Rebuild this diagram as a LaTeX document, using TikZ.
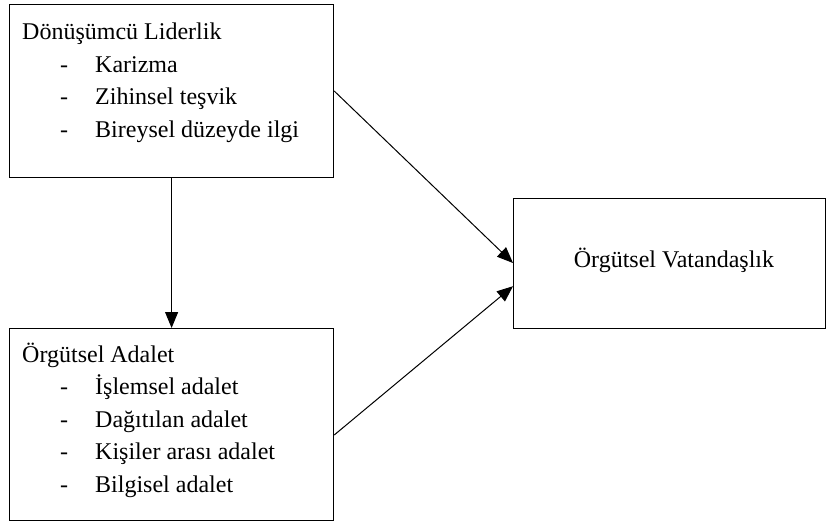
\documentclass[tikz,border=0pt]{standalone}
\usepackage{fontspec}
\setmainfont{Liberation Serif}
\usetikzlibrary{arrows.meta}
\newcommand{\madde}[1]{\makebox[73pt][l]{\hspace*{38pt}-}#1}
\begin{document}
\begin{tikzpicture}[x=1pt,y=-1pt,
    kutu/.style={draw,line width=1.2pt,inner sep=0pt,anchor=north west},
    yazi/.style={inner sep=0pt,font=\fontsize{24}{32.5}\selectfont},
    ok/.style={-{Triangle[length=16pt,width=13pt]},line width=1pt}]
  \useasboundingbox (0,0) rectangle (829,523);
  % kutular
  \node[kutu,minimum width=324pt,minimum height=173pt] (liderlik) at (9,4) {};
  \node[kutu,minimum width=324pt,minimum height=192pt] (adalet) at (9,328) {};
  \node[kutu,minimum width=312pt,minimum height=130pt] (vatandas) at (513,198) {};
  % metinler
  \node[yazi,anchor=base west] (liderlikyazi) at (22,39.5) {\begin{tabular}[t]{@{}l@{}}
    Dönüşümcü Liderlik\\
    \madde{Karizma}\\
    \madde{Zihinsel teşvik}\\
    \madde{Bireysel düzeyde ilgi}
  \end{tabular}};
  \node[yazi,anchor=base west] (adaletyazi) at (22,362) {\begin{tabular}[t]{@{}l@{}}
    Örgütsel Adalet\\
    \madde{İşlemsel adalet}\\
    \madde{Dağıtılan adalet}\\
    \madde{Kişiler arası adalet}\\
    \madde{Bilgisel adalet}
  \end{tabular}};
  \node[yazi,anchor=base] (vatandasyazi) at (674,267) {Örgütsel Vatandaşlık};
  % oklar
  \draw[ok] (liderlik.south) -- (adalet.north);
  \draw[ok] ([yshift=-87pt]liderlik.north east) -- ([yshift=-65pt]vatandas.north west);
  \draw[ok] ([yshift=-107pt]adalet.north east) -- ([yshift=43pt]vatandas.south west);
\end{tikzpicture}
\end{document}
